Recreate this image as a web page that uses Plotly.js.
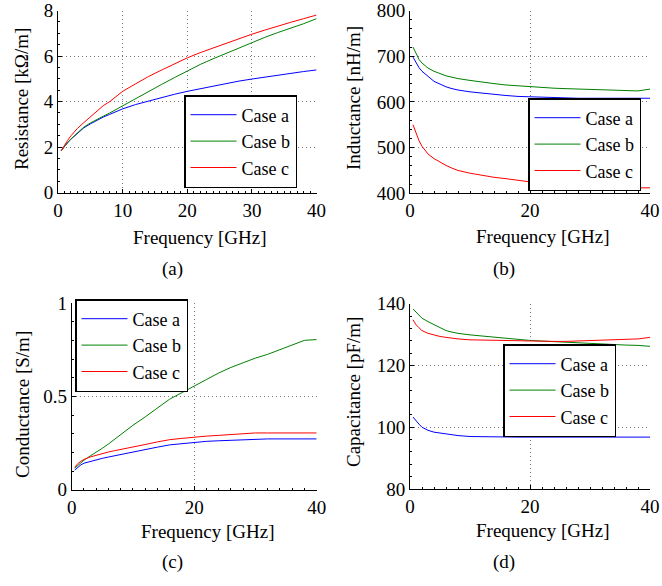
<!DOCTYPE html>
<html>
<head>
<meta charset="utf-8">
<script src="https://cdn.plot.ly/plotly-3.0.1.min.js"></script>
<style>html,body{margin:0;padding:0;background:#fff;}#chart{width:662px;height:586px;}</style>
</head>
<body>
<div id="chart"></div>
<script>
// Frequency samples [GHz]
const freq = [0.5,1,1.5,2,3,4,5,6,7,8,10,12,14,16,18,20,22,24,26,28,30,32,34,36,38,40];
const caseNames = ['Case a','Case b','Case c'];

// (a) Resistance [kOhm/m]
const resA = [1.85,2.05,2.2,2.35,2.62,2.85,3.02,3.18,3.32,3.44,3.68,3.87,4.03,4.18,4.32,4.45,4.57,4.69,4.80,4.90,4.99,5.08,5.17,5.25,5.32,5.39];
const resB = [1.85,2.05,2.2,2.36,2.64,2.88,3.06,3.22,3.36,3.50,3.82,4.12,4.45,4.75,5.05,5.35,5.63,5.88,6.12,6.36,6.60,6.82,7.03,7.22,7.42,7.64];
const resC = [1.85,2.10,2.3,2.50,2.82,3.08,3.32,3.58,3.82,4.00,4.45,4.78,5.10,5.38,5.66,5.92,6.15,6.36,6.56,6.76,6.96,7.14,7.32,7.48,7.64,7.80];

// (b) Inductance [nH/m]
const indA = [698,685,675,667,655,645,639,633,629,626,622,619,616,614,612,611,610,609,609,608,608,608,608,608,608,608];
const indB = [720,705,693,685,674,667,662,657,654,651,647,643,640,637,635,633,632,630,629,628,627,627,626,625,624,628];
const indC = [550,530,515,503,486,476,468,461,455,450,444,439,435,432,428,425,423,421,419,418,416,415,413,412,412,412];

// (c) Conductance [S/m]
const conA = [0.105,0.120,0.133,0.142,0.152,0.160,0.168,0.175,0.182,0.188,0.203,0.216,0.228,0.240,0.247,0.254,0.259,0.262,0.265,0.268,0.272,0.272,0.272,0.272,0.272,0.272];
const conB = [0.115,0.130,0.145,0.158,0.180,0.200,0.222,0.245,0.270,0.295,0.345,0.390,0.440,0.485,0.520,0.557,0.590,0.625,0.655,0.680,0.705,0.725,0.750,0.775,0.800,0.804];
const conC = [0.120,0.140,0.152,0.162,0.175,0.185,0.195,0.202,0.209,0.215,0.228,0.242,0.256,0.268,0.275,0.282,0.287,0.291,0.296,0.302,0.304,0.304,0.304,0.304,0.304,0.304];

// (d) Capacitance [pF/m]
const capA = [103.3,102.0,101.0,100.0,99.0,98.4,98.1,97.8,97.5,97.3,97.0,96.9,96.8,96.8,96.8,96.8,96.8,96.8,96.8,96.8,96.8,96.8,96.8,96.8,96.8,96.8];
const capB = [138.3,137.2,136.2,135.3,134.2,133.2,132.2,131.3,130.8,130.4,129.9,129.5,129.1,128.7,128.4,128.1,127.9,127.7,127.5,127.3,127.0,126.9,126.7,126.6,126.5,126.2];
const capC = [134.8,133.2,132.2,131.3,130.4,129.8,129.4,129.1,128.8,128.6,128.3,128.2,128.1,128.0,128.0,128.0,127.9,127.8,127.8,127.9,128.1,128.2,128.3,128.4,128.6,129.1];

const xTitle = 'Frequency [GHz]';
const yTitles = ['Resistance [kΩ/m]','Inductance [nH/m]','Conductance [S/m]','Capacitance [pF/m]'];
const panelLabels = ['(a)','(b)','(c)','(d)'];

const colors = ['#0000ff','#008000','#ff0000'];
const FONT = 'Liberation Serif';
const FS = 19;
const W = 662, H = 586;
const px = v => v / W;
const py = v => 1 - v / H;

const panels = [
  {series:[resA,resB,resC], xa:'x',  ya:'y',  leg:'legend'},
  {series:[indA,indB,indC], xa:'x2', ya:'y2', leg:'legend2'},
  {series:[conA,conB,conC], xa:'x3', ya:'y3', leg:'legend3'},
  {series:[capA,capB,capC], xa:'x4', ya:'y4', leg:'legend4'}
];

const traces = [];
panels.forEach(p => {
  p.series.forEach((s, i) => {
    traces.push({
      x: freq, y: s, type: 'scatter', mode: 'lines', name: caseNames[i],
      xaxis: p.xa, yaxis: p.ya, legend: p.leg,
      line: {color: colors[i], width: 1}
    });
  });
});

function axis(domain, range, dtick, minorDtick, anchor) {
  return {
    domain: domain, range: range, dtick: dtick, tick0: range[0], anchor: anchor,
    showline: true, linecolor: '#000', linewidth: 1,
    ticks: 'inside', ticklen: 4, tickcolor: '#000', tickwidth: 1,
    showgrid: true, gridcolor: '#777', griddash: '1px,3px', gridwidth: 1,
    zeroline: false, fixedrange: true, ticklabeloverflow: 'allow',
    tickfont: {family: FONT, size: FS, color: '#000'},
    minor: {ticks: 'inside', ticklen: 2, dtick: minorDtick, tickcolor: '#000', showgrid: false}
  };
}

function legend(x, y) {
  return {
    x: px(x), y: py(y), xanchor: 'left', yanchor: 'top',
    bgcolor: '#fff', bordercolor: '#000', borderwidth: 1.5,
    font: {family: FONT, size: 18, color: '#000'},
    itemwidth: 46, tracegroupgap: 0
  };
}

const ann = [];
function addText(text, x, y, angle) {
  ann.push({text: text, x: px(x), y: py(y), xref: 'paper', yref: 'paper',
    showarrow: false, textangle: angle || 0, xanchor: 'center', yanchor: 'middle',
    font: {family: FONT, size: FS, color: '#000'}});
}
// x-axis titles
addText(xTitle, 199, 237); addText(xTitle, 542, 236);
addText(xTitle, 207, 531); addText(xTitle, 542, 530);
// y-axis titles
addText(yTitles[0], 22, 99, -90); addText(yTitles[1], 353, 98, -90);
addText(yTitles[2], 22, 405, -90); addText(yTitles[3], 353, 392, -90);
// panel labels
addText(panelLabels[0], 172, 269); addText(panelLabels[1], 504, 269);
addText(panelLabels[2], 172, 562); addText(panelLabels[3], 504, 562);

const layout = {
  width: W, height: H, margin: {l: 0, r: 0, t: 0, b: 0},
  paper_bgcolor: '#fff', plot_bgcolor: '#fff', showlegend: true,
  font: {family: FONT, size: FS, color: '#000'},
  xaxis:  axis([px(58), px(316.5)], [0, 40], 10, 1, 'y'),
  yaxis:  axis([py(192.7), py(10.5)], [0, 8], 2, 0.5, 'x'),
  xaxis2: axis([px(410), px(650)], [0, 40], 20, 2, 'y2'),
  yaxis2: axis([py(193.3), py(10.5)], [400, 800], 100, 20, 'x2'),
  xaxis3: axis([px(71.7), px(316.7)], [0, 40], 20, 2, 'y3'),
  yaxis3: axis([py(489.7), py(303)], [0, 1], 0.5, 0.1, 'x3'),
  xaxis4: axis([px(410), px(650)], [0, 40], 20, 2, 'y4'),
  yaxis4: axis([py(489), py(303.7)], [80, 140], 20, 4, 'x4'),
  legend:  legend(184, 95),
  legend2: legend(528, 98),
  legend3: legend(75, 299),
  legend4: legend(503, 344),
  annotations: ann
};

Plotly.newPlot('chart', traces, layout, {displayModeBar: false, staticPlot: true});
</script>
</body>
</html>
